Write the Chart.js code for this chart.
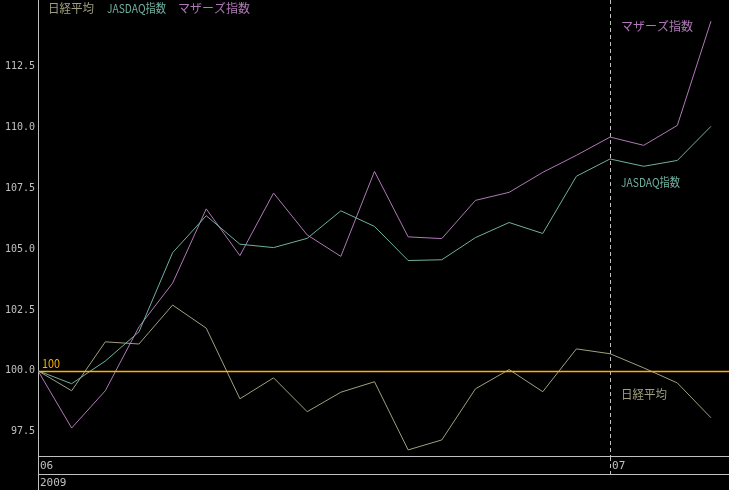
<!DOCTYPE html>
<html>
<head>
<meta charset="utf-8">
<script src="https://cdn.jsdelivr.net/npm/chart.js@4.4.1/dist/chart.umd.min.js"></script>
<style>
  html, body { margin: 0; padding: 0; background: #000; }
  #wrap { width: 729px; height: 490px; }
</style>
</head>
<body>
<div id="wrap"><canvas id="myChart" width="729" height="490"></canvas></div>
<script>
// 2009/06/08 - 2009/07/06, 100 = first day
var dates = ['6/8','6/9','6/10','6/11','6/12','6/15','6/16','6/17','6/18','6/19','6/22',
             '6/23','6/24','6/25','6/26','6/29','6/30','7/1','7/2','7/3','7/6'];
var nikkei  = [100.0, 99.18, 101.19, 101.1, 102.7, 101.75, 98.85, 99.71, 98.32, 99.12, 99.55,
               96.75, 97.16, 99.26, 100.05, 99.14, 100.9, 100.7, 100.12, 99.5, 98.07];
var jasdaq  = [100.0, 99.47, 100.4, 101.6, 104.85, 106.37, 105.2, 105.06, 105.44, 106.57, 105.93,
               104.53, 104.56, 105.47, 106.09, 105.64, 107.99, 108.7, 108.4, 108.64, 110.04];
var mothers = [100.0, 97.65, 99.18, 101.8, 103.6, 106.65, 104.73, 107.3, 105.58, 104.7, 108.19,
               105.5, 105.43, 107.0, 107.33, 108.15, 108.85, 109.6, 109.26, 110.08, 114.36];
var seriesNames = ['日経平均', 'JASDAQ指数', 'マザーズ指数'];
var yTicks = [97.5, 100.0, 102.5, 105.0, 107.5, 110.0, 112.5];
var monthTickIndex = [0, 17];
var monthTickText = ['06', '07'];
var yearTickText = ['2009'];
var baseValue = 100;

var colNikkei = '#a0a080';
var colJasdaq = '#70b0a0';
var colMothers = '#b078b8';
var axisCol = '#c0c0c0';
var cjk = '"Noto Sans CJK JP", sans-serif';
var mono = '"DejaVu Sans Mono", monospace';

function pts(arr) {
    return arr.map(function (v, i) { return { x: i, y: v }; });
}
function noPad(scale) {
    scale.paddingTop = 0; scale.paddingBottom = 0;
    scale.paddingLeft = 0; scale.paddingRight = 0;
}

var overlay = {
    id: 'overlay',
    afterDatasetsDraw: function (chart) {
        var ctx = chart.ctx;
        var y = chart.scales.y;
        var area = chart.chartArea;
        var py = Math.round(y.getPixelForValue(baseValue)) + 0.5;
        ctx.save();
        ctx.setLineDash([]);
        ctx.strokeStyle = '#ffb000';
        ctx.lineWidth = 1.4;
        ctx.beginPath();
        ctx.moveTo(area.left + 1, py);
        ctx.lineTo(chart.width, py);
        ctx.stroke();
        ctx.fillStyle = '#ffb000';
        ctx.font = '12px ' + cjk;
        ctx.textBaseline = 'middle';
        ctx.fillText(String(baseValue), area.left + 4, py - 8, 18);
        ctx.restore();
    },
    afterDraw: function (chart) {
        var ctx = chart.ctx;
        var area = chart.chartArea;
        var x = chart.scales.x;
        ctx.save();
        // y axis line runs down through the date bands
        ctx.strokeStyle = axisCol;
        ctx.lineWidth = 1;
        ctx.beginPath();
        ctx.moveTo(area.left + 0.5, area.bottom);
        ctx.lineTo(area.left + 0.5, chart.height);
        ctx.stroke();

        ctx.font = '12px ' + cjk;
        ctx.textBaseline = 'middle';
        // legend
        var cols = [colNikkei, colJasdaq, colMothers];
        var lx = [48, 107, 178];
        var lw = [46, 59, 72];
        for (var i = 0; i < seriesNames.length; i++) {
            ctx.fillStyle = cols[i];
            ctx.fillText(seriesNames[i], lx[i], 8, lw[i]);
        }
        // end labels
        var ex = x.getPixelForValue(monthTickIndex[1]) + 11;
        ctx.fillStyle = colMothers;
        ctx.fillText(seriesNames[2], ex, 26, lw[2]);
        ctx.fillStyle = colJasdaq;
        ctx.fillText(seriesNames[1], ex, 182, lw[1]);
        ctx.fillStyle = colNikkei;
        ctx.fillText(seriesNames[0], ex, 394, lw[0]);
        ctx.restore();
    }
};

var ctx = document.getElementById('myChart').getContext('2d');
var myChart = new Chart(ctx, {
    type: 'line',
    data: {
        datasets: [{
            label: seriesNames[0],
            data: pts(nikkei),
            borderColor: colNikkei,
            borderWidth: 1
        }, {
            label: seriesNames[1],
            data: pts(jasdaq),
            borderColor: colJasdaq,
            borderWidth: 1
        }, {
            label: seriesNames[2],
            data: pts(mothers),
            borderColor: colMothers,
            borderWidth: 1
        }]
    },
    options: {
        responsive: false,
        animation: false,
        devicePixelRatio: 1,
        layout: { padding: 0 },
        elements: { point: { radius: 0 }, line: { tension: 0 } },
        plugins: { legend: { display: false }, tooltip: { enabled: false } },
        scales: {
            x: {
                type: 'linear',
                position: 'bottom',
                weight: 0,
                min: 0,
                max: 20.535,
                afterBuildTicks: function (axis) {
                    axis.ticks = monthTickIndex.map(function (v) { return { value: v }; });
                },
                afterFit: function (scale) { scale.height = 18; noPad(scale); },
                grid: {
                    color: function (c) { return c.index > 0 ? axisCol : 'rgba(0,0,0,0)'; },
                    tickColor: function (c) { return c.index > 0 ? axisCol : 'rgba(0,0,0,0)'; },
                    tickBorderDash: [4, 3],
                    tickLength: 18,
                    drawTicks: true
                },
                border: { color: axisCol, dash: [4, 3] },
                ticks: {
                    autoSkip: false,
                    align: 'start',
                    labelOffset: 2,
                    padding: -14,
                    color: axisCol,
                    font: { family: mono, size: 11 },
                    callback: function (v) {
                        var k = monthTickIndex.indexOf(v);
                        return k >= 0 ? monthTickText[k] : '';
                    }
                }
            },
            x2: {
                type: 'linear',
                position: 'bottom',
                weight: 1,
                min: 0,
                max: 20.535,
                afterBuildTicks: function (axis) { axis.ticks = [{ value: 0 }]; },
                afterFit: function (scale) { scale.height = 16; noPad(scale); },
                grid: { display: false, drawTicks: false },
                border: { display: true, color: axisCol },
                ticks: {
                    autoSkip: false,
                    align: 'start',
                    labelOffset: 2,
                    padding: 3,
                    color: axisCol,
                    font: { family: mono, size: 11 },
                    callback: function () { return yearTickText[0]; }
                }
            },
            y: {
                min: 96.5,
                max: 115.23,
                afterBuildTicks: function (axis) {
                    axis.ticks = yTicks.map(function (v) { return { value: v }; });
                },
                afterFit: function (scale) { scale.width = 38; noPad(scale); },
                grid: { display: false, drawTicks: false },
                border: { color: axisCol },
                ticks: {
                    padding: 3,
                    color: axisCol,
                    font: { family: mono, size: 10 },
                    callback: function (v) { return Number(v).toFixed(1); }
                }
            }
        }
    },
    plugins: [overlay]
});
</script>
</body>
</html>
